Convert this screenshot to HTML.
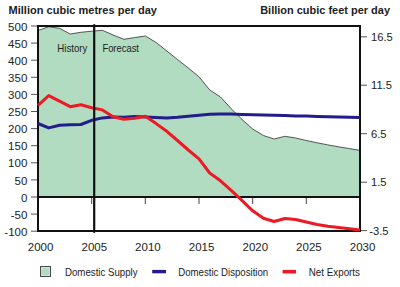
<!DOCTYPE html>
<html><head><meta charset="utf-8"><style>
html,body{margin:0;padding:0;background:#fff;width:400px;height:287px;overflow:hidden}
svg{display:block}
text{font-family:"Liberation Sans",sans-serif;fill:#222}
</style></head><body>
<svg width="400" height="287" viewBox="0 0 400 287">
<polygon points="38,197 38.0,30.5 48.7,26.8 59.5,28.3 70.2,34.0 80.9,32.3 91.7,31.2 102.4,30.3 113.1,35.0 123.9,39.3 134.6,37.6 145.3,36.0 156.1,42.5 166.8,51.0 177.5,59.5 188.3,68.0 199.0,76.8 209.7,89.9 220.5,97.0 231.2,108.7 241.9,119.3 252.7,129.0 263.4,135.5 274.1,139.0 284.9,136.3 295.6,138.0 306.3,140.5 317.1,142.8 327.8,144.9 338.5,146.8 349.3,148.6 360.0,150.3 360,197" fill="#b1dcc1" stroke="none"/>
<polyline points="38.0,30.5 48.7,26.8 59.5,28.3 70.2,34.0 80.9,32.3 91.7,31.2 102.4,30.3 113.1,35.0 123.9,39.3 134.6,37.6 145.3,36.0 156.1,42.5 166.8,51.0 177.5,59.5 188.3,68.0 199.0,76.8 209.7,89.9 220.5,97.0 231.2,108.7 241.9,119.3 252.7,129.0 263.4,135.5 274.1,139.0 284.9,136.3 295.6,138.0 306.3,140.5 317.1,142.8 327.8,144.9 338.5,146.8 349.3,148.6 360.0,150.3" fill="none" stroke="#444" stroke-width="0.9"/>
<rect x="38" y="26" width="322" height="205" fill="none" stroke="#111" stroke-width="2"/>
<line x1="38" y1="197" x2="360" y2="197" stroke="#111" stroke-width="2"/>
<polyline points="38.0,123.5 48.7,127.9 59.5,125.3 70.2,124.8 80.9,124.5 91.7,120.3 102.4,117.9 113.1,117.1 123.9,117.2 134.6,116.5 145.3,117.0 156.1,117.5 166.8,117.9 177.5,117.2 188.3,116.2 199.0,115.2 209.7,114.2 220.5,113.9 231.2,114.1 241.9,114.4 252.7,114.7 263.4,115.0 274.1,115.3 284.9,115.6 295.6,115.9 306.3,116.1 317.1,116.4 327.8,116.7 338.5,117.0 349.3,117.2 360.0,117.4" fill="none" stroke="#221d8a" stroke-width="3" stroke-linejoin="round"/>
<polyline points="38.0,105.3 48.7,95.6 59.5,101.2 70.2,106.7 80.9,104.8 91.7,107.8 102.4,109.9 113.1,116.8 123.9,119.3 134.6,118.3 145.3,116.2 156.1,123.6 166.8,131.3 177.5,140.5 188.3,150.0 199.0,158.8 209.7,173.0 220.5,180.8 231.2,190.3 241.9,200.3 252.7,210.8 263.4,218.3 274.1,221.5 284.9,218.5 295.6,219.5 306.3,222.0 317.1,224.5 327.8,226.2 338.5,227.6 349.3,228.8 360.0,229.9" fill="none" stroke="#ec1a24" stroke-width="3" stroke-linejoin="round"/>
<line x1="31" y1="26.0" x2="37" y2="26.0" stroke="#555" stroke-width="1"/>
<text x="27.3" y="30.6" text-anchor="end" font-size="11.5">500</text>
<line x1="31" y1="43.1" x2="37" y2="43.1" stroke="#555" stroke-width="1"/>
<text x="27.3" y="47.7" text-anchor="end" font-size="11.5">450</text>
<line x1="31" y1="60.2" x2="37" y2="60.2" stroke="#555" stroke-width="1"/>
<text x="27.3" y="64.8" text-anchor="end" font-size="11.5">400</text>
<line x1="31" y1="77.3" x2="37" y2="77.3" stroke="#555" stroke-width="1"/>
<text x="27.3" y="81.9" text-anchor="end" font-size="11.5">350</text>
<line x1="31" y1="94.4" x2="37" y2="94.4" stroke="#555" stroke-width="1"/>
<text x="27.3" y="99.0" text-anchor="end" font-size="11.5">300</text>
<line x1="31" y1="111.5" x2="37" y2="111.5" stroke="#555" stroke-width="1"/>
<text x="27.3" y="116.1" text-anchor="end" font-size="11.5">250</text>
<line x1="31" y1="128.6" x2="37" y2="128.6" stroke="#555" stroke-width="1"/>
<text x="27.3" y="133.2" text-anchor="end" font-size="11.5">200</text>
<line x1="31" y1="145.7" x2="37" y2="145.7" stroke="#555" stroke-width="1"/>
<text x="27.3" y="150.3" text-anchor="end" font-size="11.5">150</text>
<line x1="31" y1="162.8" x2="37" y2="162.8" stroke="#555" stroke-width="1"/>
<text x="27.3" y="167.4" text-anchor="end" font-size="11.5">100</text>
<line x1="31" y1="179.9" x2="37" y2="179.9" stroke="#555" stroke-width="1"/>
<text x="27.3" y="184.5" text-anchor="end" font-size="11.5">50</text>
<line x1="31" y1="197.0" x2="37" y2="197.0" stroke="#555" stroke-width="1"/>
<text x="27.3" y="201.6" text-anchor="end" font-size="11.5">0</text>
<line x1="31" y1="214.1" x2="37" y2="214.1" stroke="#555" stroke-width="1"/>
<text x="27.4" y="218.7" text-anchor="end" font-size="11.5">-50</text>
<line x1="31" y1="231.2" x2="37" y2="231.2" stroke="#555" stroke-width="1"/>
<text x="27.4" y="235.8" text-anchor="end" font-size="11.5">-100</text>
<line x1="361" y1="36.8" x2="367" y2="36.8" stroke="#555" stroke-width="1"/>
<text x="371" y="40.7" font-size="11.2">16.5</text>
<line x1="361" y1="85.2" x2="367" y2="85.2" stroke="#555" stroke-width="1"/>
<text x="371" y="89.2" font-size="11.2">11.5</text>
<line x1="361" y1="133.7" x2="367" y2="133.7" stroke="#555" stroke-width="1"/>
<text x="371" y="137.6" font-size="11.2">6.5</text>
<line x1="361" y1="182.2" x2="367" y2="182.2" stroke="#555" stroke-width="1"/>
<text x="371" y="186.1" font-size="11.2">1.5</text>
<line x1="361" y1="230.6" x2="367" y2="230.6" stroke="#555" stroke-width="1"/>
<text x="369.2" y="234.5" font-size="11.2">-3.5</text>
<line x1="91.7" y1="198" x2="91.7" y2="204" stroke="#444" stroke-width="1"/>
<line x1="145.3" y1="198" x2="145.3" y2="204" stroke="#444" stroke-width="1"/>
<line x1="199.0" y1="198" x2="199.0" y2="204" stroke="#444" stroke-width="1"/>
<line x1="252.7" y1="198" x2="252.7" y2="204" stroke="#444" stroke-width="1"/>
<line x1="306.3" y1="198" x2="306.3" y2="204" stroke="#444" stroke-width="1"/>
<text x="40.6" y="251" text-anchor="middle" font-size="11.5">2000</text>
<text x="94.3" y="251" text-anchor="middle" font-size="11.5">2005</text>
<text x="147.9" y="251" text-anchor="middle" font-size="11.5">2010</text>
<text x="201.6" y="251" text-anchor="middle" font-size="11.5">2015</text>
<text x="255.3" y="251" text-anchor="middle" font-size="11.5">2020</text>
<text x="308.9" y="251" text-anchor="middle" font-size="11.5">2025</text>
<text x="362.6" y="251" text-anchor="middle" font-size="11.5">2030</text>
<line x1="94.2" y1="25" x2="94.2" y2="232" stroke="#111" stroke-width="2.2" stroke-linecap="round"/>
<text x="57.3" y="52.1" font-size="10.3" textLength="30" lengthAdjust="spacingAndGlyphs" fill="#333">History</text>
<text x="102.4" y="51.8" font-size="10.3" textLength="36.6" lengthAdjust="spacingAndGlyphs" fill="#333">Forecast</text>
<text x="8.5" y="14" font-size="11" font-weight="bold" textLength="148.5" lengthAdjust="spacingAndGlyphs">Million cubic metres per day</text>
<text x="260.2" y="14" font-size="11" font-weight="bold" textLength="129.8" lengthAdjust="spacingAndGlyphs">Billion cubic feet per day</text>
<rect x="40.5" y="266.5" width="10" height="10" fill="#b1dcc1" stroke="#4a4a4a" stroke-width="1"/>
<rect x="41.5" y="267.5" width="8" height="8" fill="none" stroke="#c4ecd0" stroke-width="1"/>
<text x="65" y="276" font-size="10.5" textLength="72.6" lengthAdjust="spacingAndGlyphs">Domestic Supply</text>
<rect x="152.2" y="269.9" width="13.8" height="3.4" fill="#221d8a"/>
<text x="178.3" y="276" font-size="10.5" textLength="89.9" lengthAdjust="spacingAndGlyphs">Domestic Disposition</text>
<rect x="282.6" y="269.9" width="13.4" height="3.6" fill="#ec1a24"/>
<text x="308.8" y="276" font-size="10.5" textLength="51.2" lengthAdjust="spacingAndGlyphs">Net Exports</text>
</svg>
</body></html>
